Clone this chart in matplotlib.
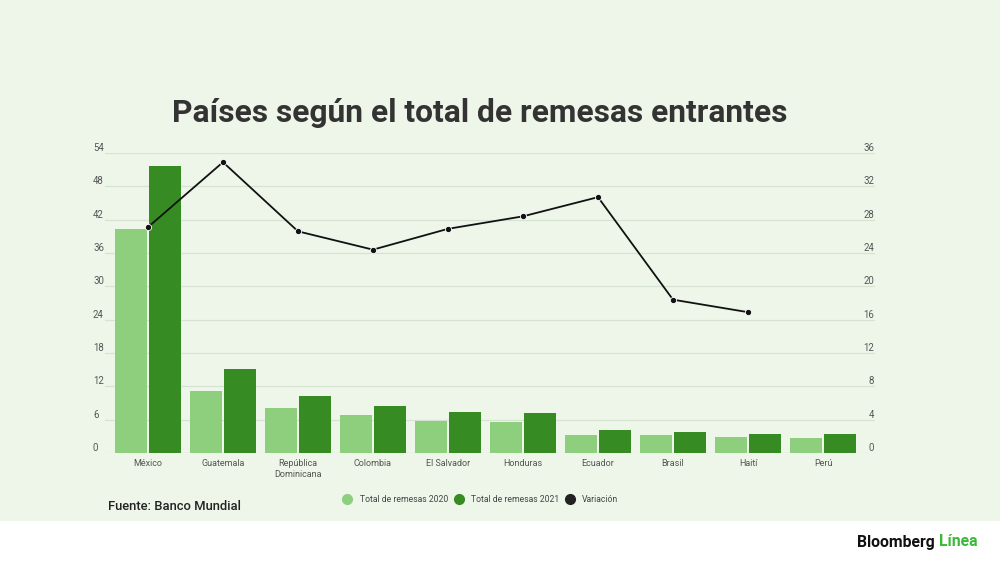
import matplotlib
matplotlib.use("Agg")
import matplotlib.pyplot as plt
import matplotlib.transforms as mtransforms
import numpy as np
from matplotlib.lines import Line2D

plt.rcParams['font.family'] = ['Roboto', 'DejaVu Sans']

categories = ["México", "Guatemala", "República\nDominicana", "Colombia", "El Salvador",
              "Honduras", "Ecuador", "Brasil", "Haití", "Perú"]
remesas_2020 = [40.4, 11.2, 8.1, 6.8, 5.8, 5.6, 3.2, 3.2, 2.9, 2.7]
remesas_2021 = [51.6, 15.1, 10.3, 8.5, 7.4, 7.2, 4.1, 3.8, 3.4, 3.4]
variacion = [27.1, 34.9, 26.6, 24.4, 26.9, 28.4, 30.7, 18.4, 16.9, np.nan]
left_ticks = [0, 6, 12, 18, 24, 30, 36, 42, 48, 54]
right_ticks = [0, 4, 8, 12, 16, 20, 24, 28, 32, 36]

BG = '#edf6e9'
C20 = '#8ecf7e'
C21 = '#368c22'
GRID = '#d6e2d2'
TXT = '#555555'

fig = plt.figure(figsize=(10, 5.62), dpi=100)
fig.patch.set_facecolor('white')
# green panel
bg = fig.add_axes([0, 1 - 521 / 562, 1, 521 / 562], zorder=-10)
bg.set_facecolor(BG)
bg.set_axis_off()
bg.add_patch(plt.Rectangle((0, 0), 1, 1, transform=bg.transAxes, facecolor=BG, edgecolor='none'))

ax = fig.add_axes([0.105, 1 - 453 / 562, 0.77, 300 / 562])
ax.set_facecolor('none')
x = np.arange(len(categories))
w = 0.43
off = 0.227
ax.bar(x - off, remesas_2020, width=w, color=C20, zorder=2)
ax.bar(x + off, remesas_2021, width=w, color=C21, zorder=2)
ax.set_xlim(-0.573, 9.693)
ax.set_ylim(0, 54)
for s in ax.spines.values():
    s.set_visible(False)
ax.set_yticks([])
ax.set_xticks(x)
ax.set_xticklabels(categories, fontsize=6.5, color=TXT, linespacing=1.3)
ax.tick_params(axis='x', length=0, pad=4)
for t in left_ticks:
    ax.axhline(t, color=GRID, lw=0.9, zorder=1)
tr = mtransforms.blended_transform_factory(ax.transAxes, ax.transData)
for t in left_ticks:
    ax.text(-0.0156, t, str(t), transform=tr, ha='left', va='bottom', fontsize=6.9, color=TXT)

ax2 = ax.twinx()
ax2.set_ylim(0, 36)
ax2.set_xlim(-0.573, 9.693)
for s in ax2.spines.values():
    s.set_visible(False)
ax2.set_yticks([])
ax2.plot(x, variacion, color='#111111', lw=1.3, marker='o', markersize=4.5,
         markerfacecolor='#111111', markeredgecolor='white', markeredgewidth=0.6, zorder=5)
tr2 = mtransforms.blended_transform_factory(ax2.transAxes, ax2.transData)
for t in right_ticks:
    ax2.text(0.9987, t, str(t), transform=tr2, ha='right', va='bottom', fontsize=6.9, color=TXT)

# title
fig.text(0.4795, 1 - 113 / 562, "Países según el total de remesas entrantes", ha='center', va='center',
         fontsize=22.9, fontweight='bold', color='#333333')

# legend
handles = [Line2D([], [], marker='o', ls='none', markersize=7, color=C20),
           Line2D([], [], marker='o', ls='none', markersize=7, color=C21),
           Line2D([], [], marker='o', ls='none', markersize=7, color='#222222')]
labels = ["Total de remesas 2020", "Total de remesas 2021", "Variación"]
fig.legend(handles, labels, loc='center', bbox_to_anchor=(0.4805, 1 - 500 / 562), ncol=3,
           frameon=False, fontsize=6.2, handletextpad=0.9, columnspacing=0.75,
           labelcolor='#444444', handlelength=1.0)

fig.text(0.108, 1 - 507 / 562, "Fuente: Banco Mundial", ha='left', va='center',
         fontsize=9.4, fontweight='medium', color='#222222')

# logo
t1 = fig.text(0.857, 1 - 542 / 562, "Bloomberg ", ha='left', va='center', fontsize=11.3,
              fontweight='bold', color='#111111')
fig.canvas.draw()
bb = t1.get_window_extent()
fig.text(bb.x1 / fig.bbox.width, 1 - 542 / 562, "Línea", ha='left', va='center', fontsize=11.3,
         fontweight='bold', color='#3db93a')

fig.savefig('out.png', dpi=100, facecolor=fig.get_facecolor())
